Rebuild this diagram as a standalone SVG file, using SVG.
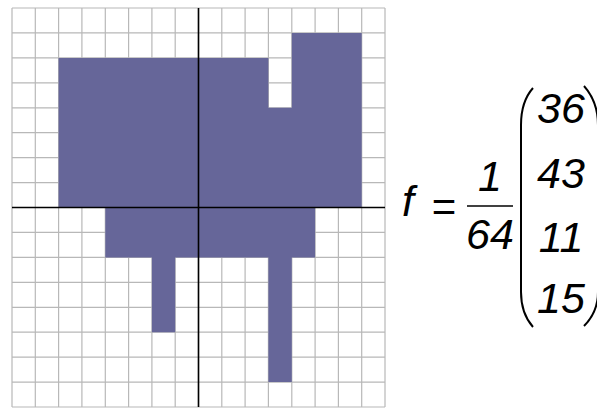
<svg xmlns="http://www.w3.org/2000/svg" width="597" height="408" viewBox="0 0 597 408">
<style>
.grid{stroke:#b8b8b8;stroke-width:1.2;fill:none}
.axis{stroke:#000;stroke-width:1.6;fill:none}
.shape{fill:#666699}
.m{font-family:"Liberation Sans",Arial,sans-serif;font-style:italic;font-size:43px;fill:#000}
.op{font-family:"Liberation Sans",Arial,sans-serif;font-size:42px;fill:#000}
.br{stroke:#000;stroke-width:2;fill:none}
</style>
<rect width="597" height="408" fill="#fff"/>
<g id="grid">
<path class="grid" d="M12,8V407M35.3,8V407M58.6,8V407M81.9,8V407M105.3,8V407M128.6,8V407M151.9,8V407M175.2,8V407M198.5,8V407M221.8,8V407M245.1,8V407M268.4,8V407M291.8,8V407M315.1,8V407M338.4,8V407M361.7,8V407M385,8V407
M12,8H385M12,32.9H385M12,57.9H385M12,82.8H385M12,107.8H385M12,132.7H385M12,157.6H385M12,182.6H385M12,207.5H385M12,232.4H385M12,257.4H385M12,282.3H385M12,307.3H385M12,332.2H385M12,357.1H385M12,382.1H385M12,407H385"/>
</g>
<g id="shape">
<path class="shape" d="M58.6,57.9H268.4V107.8H291.8V32.9H361.7V207.5H315.1V257.4H291.8V382.1H268.4V257.4H175.2V332.2H151.9V257.4H105.3V207.5H58.6Z"/>
</g>
<g id="axes">
<path class="axis" d="M12,207.5H385M198.5,8V407"/>
</g>
<g id="formula">
<text class="m" x="402" y="216">f</text>
<text class="op" x="444" y="221" text-anchor="middle">=</text>
<text class="m" x="490" y="191" text-anchor="middle">1</text>
<line x1="467" y1="206" x2="513" y2="206" stroke="#000" stroke-width="1.6"/>
<text class="m" x="490" y="249" text-anchor="middle">64</text>
<path class="br" d="M533,88 C525,97 521,108 521,125 V292 C521,308 525,318 533,327"/>
<path class="br" d="M584,86 C592,95 598,106 598,125 V292 C598,308 592,318 584,326"/>
<text class="m" x="561" y="123" text-anchor="middle">36</text>
<text class="m" x="561" y="188" text-anchor="middle">43</text>
<text class="m" x="561" y="252" text-anchor="middle">11</text>
<text class="m" x="561" y="313" text-anchor="middle">15</text>
</g>
</svg>
